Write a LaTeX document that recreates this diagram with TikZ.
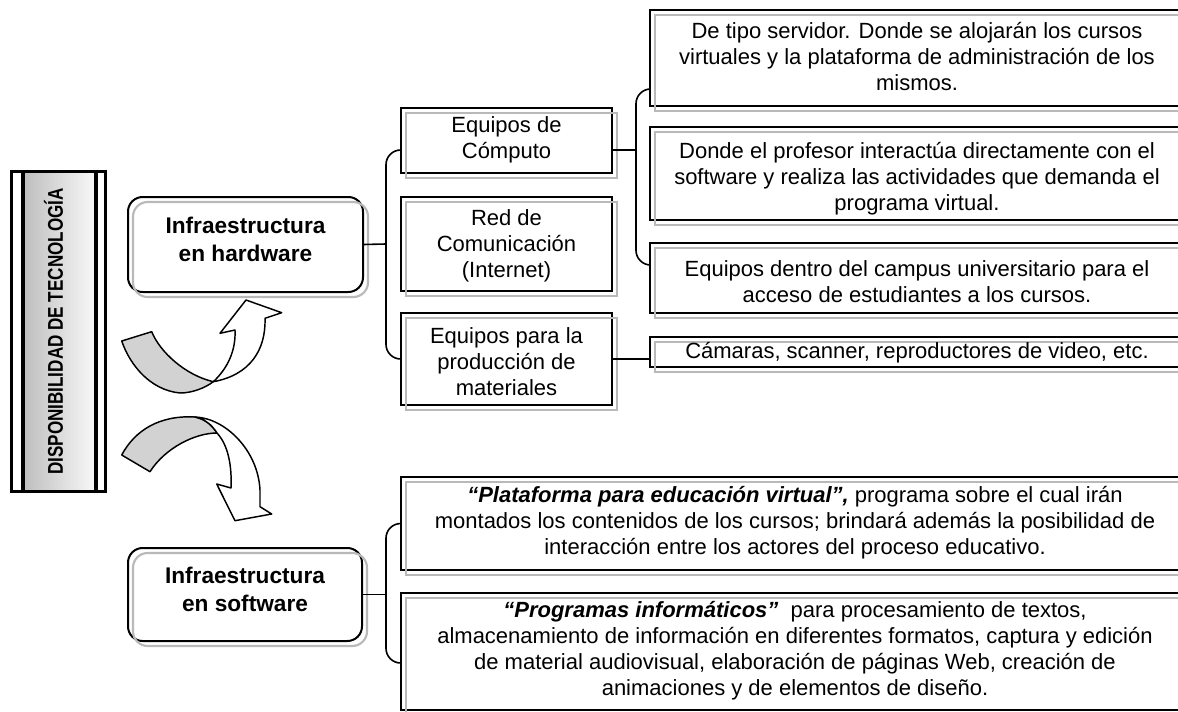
\documentclass[tikz,border=0pt]{standalone}
\usepackage{fontspec}
\setmainfont{Liberation Sans}
\usetikzlibrary{fit,calc}
\begin{document}
\begin{tikzpicture}[x=0.75pt,y=-0.75pt,
  txt/.style={font=\fontsize{16.5}{19.5}\selectfont, align=center, inner sep=0pt},
  btxt/.style={font=\bfseries\fontsize{17}{21}\selectfont, align=center, inner sep=0pt},
  sqbox/.style={draw=black, line width=1.5pt, inner sep=0pt, outer sep=0pt},
  rbox/.style={sqbox, rounded corners=11pt},
  shad/.style={draw=gray!55, line width=1.6pt},
  conn/.style={draw=black, line width=1.2pt, rounded corners=11pt},
  arr/.style={draw=black, line width=1.1pt, line join=round},
]
\useasboundingbox (0,0) rectangle (1178,711);
\clip (0,0) rectangle (1178,711);

% ---- title bar ----
\node[fit={(11.5,171.5) (105.5,491.5)}, inner sep=0pt, outer sep=0pt] (title) {};
\shade[left color=gray!50, right color=gray!6] ($(title.north west)+(13,0)$) rectangle ($(title.south east)+(-11,0)$);
\draw[line width=2.2pt] (title.north west) rectangle (title.south east);
\draw[line width=3pt] ($(title.north west)+(11.5,0)$) -- ($(title.south west)+(11.5,0)$);
\draw[line width=3pt] ($(title.north east)+(-10,0)$) -- ($(title.south east)+(-10,0)$);
\node[rotate=90, font=\bfseries\fontsize{16}{18}\selectfont, inner sep=0pt] (titletext) at ($(title.center)+(-5,0)$) {\scalebox{0.8}[1]{DISPONIBILIDAD DE TECNOLOGÍA}};

% ---- boxes ----
\node[rbox, fit={(128,197) (363,292)}] (hw) {};
\node[rbox, fit={(128,548) (362,641)}] (sw) {};
\node[sqbox, fit={(401,108) (612,173)}] (e1) {};
\node[sqbox, fit={(401,197) (612,291)}] (e2) {};
\node[sqbox, fit={(401,313) (612,405)}] (e3) {};
\node[sqbox, fit={(650,10) (1184,106)}] (b1) {};
\node[sqbox, fit={(650,127) (1184,220)}] (b2) {};
\node[sqbox, fit={(650,243) (1184,313)}] (b3) {};
\node[sqbox, fit={(650,337) (1184,367)}] (b4) {};
\node[sqbox, fit={(401,477) (1189,570)}] (p5) {};
\node[sqbox, fit={(401,593) (1189,710)}] (p6) {};

% ---- shadows ----
\foreach \n in {e1,e2,e3,b1,b2,b3,b4,p5,p6}{
  \draw[shad] ([shift={(5,5)}]\n.north west) rectangle ([shift={(5,5)}]\n.south east);
}
\foreach \n in {hw,sw}{
  \draw[shad, rounded corners=11pt] ([shift={(5,5)}]\n.north west) rectangle ([shift={(5,5)}]\n.south east);
}

% ---- texts ----
\node[btxt] (hwt) at (245.5,239) {Infraestructura\\en hardware};
\node[btxt] (swt) at (245,589) {Infraestructura\\en software};
\node[txt] (e1t) at (506.5,140) {Equipos de\\Cómputo};
\node[txt] (e2t) at (506.5,246) {Red de\\Comunicación\\(Internet)};
\node[txt] (e3t) at (506.5,362) {Equipos para la\\producción de\\materiales};
\node[txt] (b1t) at (917,57) {De tipo servidor. Donde se alojarán los cursos\\virtuales y la plataforma de administración de los\\mismos.};
\node[txt] (b2t) at (917,179) {Donde el profesor interactúa directamente con el\\software y realiza las actividades que demanda el\\programa virtual.};
\node[txt] (b3t) at (917,281.5) {Equipos dentro del campus universitario para el\\acceso de estudiantes a los cursos.};
\node[txt] (b4t) at (917,353) {Cámaras, scanner, reproductores de video, etc.};
\node[txt] (p5t) at (795,523) {{\bfseries\itshape “Plataforma para educación virtual”,} programa sobre el cual irán\\montados los contenidos de los cursos; brindará además la posibilidad de\\interacción entre los actores del proceso educativo.};
\node[txt] (p6t) at (795,651) {{\bfseries\itshape “Programas informáticos”}\ \ para procesamiento de textos,\\almacenamiento de información en diferentes formatos, captura y edición\\de material audiovisual, elaboración de páginas Web, creación de\\animaciones y de elementos de diseño.};

% ---- connectors ----
\coordinate (j1) at (386,244);
\draw[conn] (hw.east) -- (j1);
\draw[conn] ($(e1.west)+(0,9.5)$) -| (j1) |- (e3.west);

\coordinate (j2) at (636,150);
\draw[conn] ($(e1.east)+(0,9.5)$) -- (j2);
\draw[conn] ($(b1.west)+(0,31)$) -| (j2) |- ($(b3.west)+(0,-13)$);

\draw[conn] (e3.east) -- (e3.east -| b4.west);

\coordinate (j3) at (386,594.5);
\draw[conn] (sw.east) -- (j3);
\draw[conn] (p5.west) -| (j3) |- ($(p6.west)+(0,11.5)$);

% ---- curved arrows ----
\draw[arr, fill=gray!35] (121.7,341) -- (151.7,331.7) .. controls (160,352) and (185,375) .. (213.3,381.7)
  .. controls (205,388) and (192,393) .. (180,393) .. controls (150,390) and (130,365) .. (121.7,341) -- cycle;
\draw[arr, fill=white] (213.3,381.7) .. controls (228,368) and (236,350) .. (235,330) -- (220,333.3) -- (246,300)
  -- (281.7,312.7) -- (265,318.3) .. controls (266,350) and (250,375) .. (213.3,381.7) -- cycle;

\draw[arr, fill=gray!35] (121.7,455) .. controls (135,430) and (160,415) .. (195,417)
  .. controls (205,419) and (212,425) .. (217,433) .. controls (195,433) and (165,448) .. (150,471.7) -- cycle;
\draw[arr, fill=white] (195,417) .. controls (225,418) and (258,450) .. (260,490) -- (260,506.7) -- (271.7,514)
  -- (235,520.7) -- (216.7,484) -- (231,488) .. controls (232,465) and (228,445) .. (217,433)
  .. controls (212,425) and (205,419) .. (195,417) -- cycle;
\end{tikzpicture}
\end{document}
